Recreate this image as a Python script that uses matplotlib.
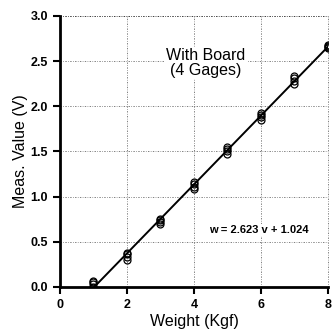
import matplotlib
matplotlib.use('Agg')
import matplotlib.pyplot as plt
import numpy as np

plt.rcParams['font.family'] = ['Liberation Sans', 'DejaVu Sans']

# measured values, 4 gages per weight
weights = [1, 2, 3, 4, 5, 6, 7, 8]
gage1 = [0.00, 0.30, 0.70, 1.08, 1.47, 1.85, 2.25, 2.65]
gage2 = [0.03, 0.33, 0.72, 1.11, 1.50, 1.88, 2.28, 2.66]
gage3 = [0.05, 0.36, 0.74, 1.14, 1.53, 1.90, 2.31, 2.67]
gage4 = [0.07, 0.38, 0.75, 1.16, 1.55, 1.92, 2.33, 2.68]

slope, intercept = 2.623, 1.024
fit_w = [intercept, 8.0]

fig = plt.figure(figsize=(3.33, 3.31), dpi=100)
ax = fig.add_axes([0.18, 0.133, 0.805, 0.819])

for g in (gage1, gage2, gage3, gage4):
    ax.plot(weights, g, 'o', ms=5, mfc='none', mec='black', mew=0.9, zorder=3)
fit_v = [(w - intercept) / slope for w in fit_w]
ax.plot(fit_w, fit_v, color='black', lw=1.4, zorder=2)

ax.set_xlim(0, 8)
ax.set_ylim(0, 3.0)
ax.set_xticks([0, 2, 4, 6, 8])
ax.set_yticks(np.arange(0, 3.01, 0.5))
ax.set_yticklabels(['0.0', '0.5', '1.0', '1.5', '2.0', '2.5', '3.0'])

grid_ls = (0, (2, 2, 1, 2))
ax.grid(True, color='black', lw=0.5, ls=grid_ls, alpha=0.7)
ax.set_axisbelow(True)
for s in ('top', 'right'):
    ax.spines[s].set_visible(False)
ax.spines['left'].set_linewidth(2)
ax.spines['bottom'].set_linewidth(2)
ax.tick_params(direction='out', length=5, width=1.5, labelsize=9)
for lab in ax.get_xticklabels() + ax.get_yticklabels():
    lab.set_fontweight('bold')

# dashed top/right border lines
ax.axhline(3.0, color='black', lw=0.5, ls=grid_ls, alpha=0.7, clip_on=False)
ax.axvline(8.0, color='black', lw=0.5, ls=grid_ls, alpha=0.7, clip_on=False)

ax.set_xlabel('Weight (Kgf)', fontsize=11.5, labelpad=2)
ax.set_ylabel('Meas. Value (V)', fontsize=11.5, labelpad=2)

ax.text(4.35, 2.48, 'With Board\n(4 Gages)', ha='center', va='center',
        fontsize=11.5, linespacing=0.95,
        bbox=dict(facecolor='white', edgecolor='none', pad=1))
ax.text(5.95, 0.63, 'w = 2.623 v + 1.024', ha='center', va='center',
        fontsize=8, fontweight='bold',
        bbox=dict(facecolor='white', edgecolor='none', pad=1))

fig.savefig('out.png', dpi=100, facecolor='white')
